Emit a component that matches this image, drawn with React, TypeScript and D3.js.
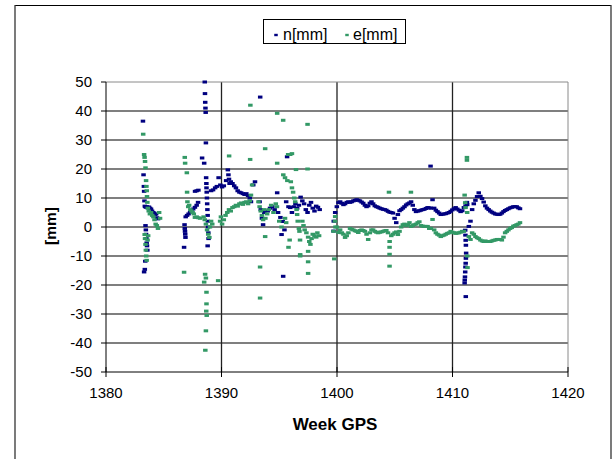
import React from "react";
import * as d3 from "d3";

// ---------- DATA ----------
const xTicks = [1380, 1390, 1400, 1410, 1420];
const yTicks = [-50, -40, -30, -20, -10, 0, 10, 20, 30, 40, 50];
const seriesNames = ["n[mm]", "e[mm]"];

// scattered early observations: n [week, mm]
const nScatterWeeks = [
  1383.20, 1383.25, 1383.28, 1383.30, 1383.33, 1383.36, 1383.40, 1383.47, 1383.55, 1383.64, 1383.72, 1383.81, 1383.90, 1383.99, 1384.08, 1384.16, 1384.25, 1384.34, 1384.42, 1384.51,
  1383.42, 1383.45, 1383.47, 1383.50, 1383.52, 1383.55, 1383.58, 1383.40, 1383.36, 1383.30,
  1386.76, 1386.80, 1386.82, 1386.84, 1386.86, 1386.88, 1386.90, 1387.02, 1387.15, 1387.28, 1387.40, 1387.55, 1387.70, 1387.85, 1387.97,
  1387.71, 1387.85, 1388.00, 1388.32, 1388.50,
  1388.55, 1388.57, 1388.59, 1388.61, 1388.63, 1388.65, 1388.67, 1388.69, 1388.70, 1388.72, 1388.74, 1388.76, 1388.78, 1388.80, 1388.82, 1388.84, 1388.86, 1388.88, 1388.80,
  1389.10, 1389.27,
  1389.45, 1389.60, 1389.75, 1389.90, 1390.05, 1390.20, 1390.40, 1390.55, 1390.60, 1390.65, 1390.70, 1390.80, 1390.95, 1391.10, 1391.25, 1391.40, 1391.55, 1391.70, 1391.85, 1392.00, 1392.15, 1392.30, 1392.45, 1392.55, 1392.75, 1392.90,
  1393.35, 1393.30, 1393.40, 1393.50, 1393.60, 1393.70, 1394.00, 1394.20, 1394.40, 1394.60, 1394.82, 1394.90,
  1395.10, 1395.20, 1395.30, 1395.34, 1395.45, 1395.68, 1395.60, 1395.80, 1395.95, 1396.10, 1396.25, 1396.40, 1396.55, 1396.70, 1396.85,
  1397.00, 1397.15, 1397.30, 1397.45, 1397.60, 1397.75, 1397.90, 1398.05, 1398.20, 1398.35, 1398.50,
  1411.10, 1411.12, 1411.14, 1411.16, 1411.18, 1411.16, 1411.14, 1411.12, 1411.10, 1411.08, 1411.06, 1411.05, 1411.15, 1411.25,
  1408.10, 1399.72,
];
const nScatterValues = [
  36.5, 18, 14, 12.3, 9, 7.2, 7, 6.8, 7, 6.6, 6.9, 6.5, 6.2, 5.5, 5, 4.8, 4.3, 4.5, 3.2, 2.8,
  0.5, -1, -2.5, -4, -5.5, -6.5, -8, -11.8, -14.6, -15.5,
  -7, 0.8, -0.5, -1.5, -2.5, -3.6, 3.5, 4, 4.5, 5, 5.7, 6.2, 6.8, 7.5, 8.5,
  12.3, 12.5, 12.7, 23.8, 22,
  50, 46, 43, 41, 39.5, 29, 17, 15, 13.5, 12, 10, 8, 6, 4, 2, 0, -2, -4, -6.5,
  12.5, 12.8,
  13.5, 14, 17, 14.5, 13.8, 14.2, 16, 19.7, 18, 16.5, 15, 15.6, 15, 14.2, 13.5, 12.5, 12, 11.8, 11.5, 11.2, 11.5, 10.8, 10, 8.7, 14.5, 15.6,
  44.8, 8.7, 6, 3, 0.8, 5, 5.5, 6.5, 7, 6, 11.8, 5,
  3.3, -2.6, 1.9, -17, -1, 24.2, 8.7, 7, 6.7, 5, 7, 8, 6.5, 7.5, 10.3,
  9, 8, 6, 5, 7.5, 8.5, 6.5, 5.5, 7.2, 6.8, 6,
  -1.1, -2.8, -4.6, -6.3, -9, -10.8, -12.5, -13.8, -15.5, -17.2, -18.3, -19.3, -24, 8.5,
  21, 2,
];

// scattered early observations: e [week, mm]
const eScatterWeeks = [
  1383.22, 1383.30, 1383.34, 1383.38, 1383.42, 1383.47, 1383.50, 1383.53, 1383.55, 1383.58, 1383.62, 1383.70, 1383.80, 1383.90, 1384.00, 1384.10, 1384.20, 1384.30, 1384.40, 1384.50, 1384.60, 1384.68,
  1383.35, 1383.38, 1383.42, 1383.45, 1383.48, 1383.52, 1383.60, 1383.65,
  1386.82, 1386.85, 1387.00, 1387.02, 1387.05, 1387.12, 1387.20, 1387.30, 1387.40, 1387.50, 1387.60, 1387.70, 1387.85, 1388.00, 1388.15,
  1386.76, 1388.58, 1388.65, 1388.50, 1388.70, 1388.70, 1388.68, 1388.72, 1388.65, 1388.60,
  1388.55, 1388.65, 1388.75, 1388.85, 1388.95, 1389.00, 1389.10, 1389.20, 1388.45,
  1389.88, 1389.95, 1390.05, 1390.20, 1390.35, 1390.50, 1390.65, 1390.80, 1390.95, 1391.10, 1391.25, 1391.40, 1391.55, 1391.70, 1391.85, 1392.00, 1392.15, 1392.30, 1392.45, 1392.55, 1392.65,
  1392.50, 1392.48, 1390.66, 1389.71,
  1393.20, 1393.30, 1393.40, 1393.50, 1393.60, 1393.70, 1393.80, 1393.95, 1394.10, 1394.30, 1394.50, 1394.70, 1394.80,
  1393.78, 1393.34, 1393.34, 1393.78, 1394.82, 1395.34, 1394.82, 1395.77, 1395.95, 1396.10, 1396.45,
  1395.35, 1395.50, 1395.70, 1396.00, 1396.10, 1396.20, 1396.30, 1396.38, 1396.50, 1396.55, 1396.60, 1396.70, 1396.75, 1396.80, 1396.81,
  1395.80, 1395.90, 1397.00, 1397.10, 1397.20, 1397.35, 1397.50, 1397.60, 1397.70, 1397.80, 1397.90, 1398.05, 1398.20, 1398.30, 1398.45,
  1397.50, 1397.50, 1397.50, 1397.45, 1397.45, 1396.81, 1399.76, 1395.50, 1395.60, 1395.20, 1395.00,
  1399.82, 1399.86, 1404.55, 1404.55, 1404.55, 1404.50, 1406.40, 1411.05, 1411.10, 1411.25, 1411.25, 1411.28, 1411.30,
];
const eScatterValues = [
  32, 25, 24, 22.6, 20.4, 16, 14, 12.5, 10.5, 8.5, 6.5, 5.5, 4.5, 5, 4, 3.5, 2.5, 1, 0.5, -0.5, 5, 3,
  -2.6, -4, -6, -8, -10, -11.5, -4.5, -3,
  24, 22, 18.7, 12, 8.7, 7, 7.5, 6, 5.5, 5, 4.5, 3.3, 3.5, 3.2, 3,
  -15.6, -16.3, -17.6, -19, -22.5, -26.5, -29, -30.5, -35.8, -42.5,
  2.5, 1, -1, -2.5, -3.6, 0, 2, 1, 3.5,
  2, 3.5, 1, 2.5, 4, 5, 6, 5.5, 6.7, 7, 7.5, 7.2, 8, 8.3, 7.8, 8.5, 8.7, 8, 9, 11, 14.5,
  42, 23.3, 24.5, -18.5,
  8.7, 7, 5.5, 4, 2.5, 6, 3, 4.5, 6, 7.5, 5, 8, 7,
  -3.3, -13.8, -24.5, 27, 39.2, 36.8, 22, 25, 25, 25.3, 19.8,
  18, 17, 16, 15.6, 13.5, 12, 10, 8.7, 6, 4.3, 2, -0.5, -1.5, -4.5, -10,
  -7, -4.5, 2, 0.5, -1, -2, -3.5, -5, -6, -4, -2.5, -3, -3.5, -2, -3,
  -8.4, -12, -16, 35.4, 20, -9.5, -11, 3, 1.5, 0, 2,
  2, 0, -7, -9.4, -13.5, 12, 12, 11, 8.4, 24, 23, -10, -14,
];

// daily continuous record starting at week 1399.7 (one value per day)
const dailyStartWeek = 1399.7;
const nDaily = [
  -1.4, 5, 7, 8.4, 8.7, 8.2, 7.7, 8, 8.5, 8.7, 8.5, 8.7, 9, 9.2, 9.4, 9.2, 9, 8.6, 8.2, 7.5,
  7, 7.3, 8.2, 8.7, 8, 7.3, 7, 6.8, 6.5, 6.3, 6.1, 6, 5.8, 5.4, 5.1, 5, 4.8, 3, 1.5, 4.3,
  5.6, 6, 6.5, 7, 7.6, 8, 8.3, 8.7, 7.5, 6, 5.3, 5.5, 5.6, 5.8, 6, 6.1, 6.4, 6.7, 6.6, 6.5,
  9.4, 6.5, 5.8, 5.3, 4.8, 4.3, 4.4, 4.5, 4.6, 4.8, 5, 5.4, 5.9, 6.3, 6.7, 6.2, 5.8, 5.3, 5.6, 6.7,
  7.3, 7.7, 0.2, 2, 6, 8, 9.2, 10.5, 11.8, 10.6, 9.8, 8.6, 7.3, 6.5, 6, 5.5, 5.1, 4.8, 4.5, 4.4,
  4.3, 4.4, 4.8, 5.3, 5.7, 6, 6.3, 6.6, 6.8, 7, 7, 7, 6.6, 6.3,
];
const eDaily = [
  -1.5, 3.6, 0, -1.9, -1, -2, -2.5, -3.6, -3, -2, -0.5, -0.8, -1, -1.3, -1.5, -1.9, -1.2, -1, -1.2, -1.5,
  -2.5, -4.3, -2, -1, -1, -1.5, -1.8, -2, -1.8, -1.7, -1.5, -1.3, -1.2, -2, -5, -3, -2.5, -2, -1.7, -2.6,
  -1.5, 0, 0.8, 1, 0.5, 0.8, 1.5, 0.2, 0.5, 0.8, 1, 1.5, 1.8, 0.5, 0.3, 0.2, 0.2, 0.2, -0.5, -0.5,
  2.6, -1, -2, -2.5, -2.8, -3.3, -3, -2.8, -2.5, -2.2, -2, -1.5, -1.8, -2, -2.2, -2.1, -2, -1.8, -1.5, -1.5,
  6.7, 5, -3.3, -4.3, -2, -2.5, -3.3, -3.7, -4, -4.5, -4.8, -5, -4.8, -5, -5, -5, -4.8, -4.6, -4.5, -4.3,
  -4.3, -4.3, -4.5, -3.5, -2, -1.5, -1, -0.5, -0.2, 0.3, 0.5, 0.8, 1, 1.5,
];

const nColor = "#000080";
const eColor = "#339966";

function buildPoints(weeks: number[], vals: number[], daily: number[]) {
  const pts: [number, number][] = weeks.map((w, i) => [w, vals[i]]);
  daily.forEach((v, i) => pts.push([dailyStartWeek + i / 7, v]));
  return pts;
}

export default function App() {
  const W = 613, H = 459;
  const x = d3.scaleLinear().domain([1380, 1420]).range([106, 568]);
  const y = d3.scaleLinear().domain([-50, 50]).range([372, 82]);
  const font = "'Liberation Sans', Arial, sans-serif";
  const nPts = buildPoints(nScatterWeeks, nScatterValues, nDaily);
  const ePts = buildPoints(eScatterWeeks, eScatterValues, eDaily);
  const mw = 4.5, mh = 3;
  const [x0, x1] = x.range();
  const [yb, yt] = y.range();

  return (
    <svg width={W} height={H} style={{ position: "absolute", left: 0, top: 0, background: "#fff" }} fontFamily={font}>
      <rect x={0} y={0} width={W} height={H} fill="#fff" />
      {/* outer chart border */}
      <line x1={15} y1={5.5} x2={611} y2={5.5} stroke="#000" />
      <line x1={15} y1={5} x2={15} y2={H} stroke="#333" strokeWidth={1.3} />
      <line x1={611} y1={5} x2={611} y2={H} stroke="#333" strokeWidth={1.3} />

      {/* legend */}
      <rect x={263.5} y={19.5} width={142} height={24} fill="#fff" stroke="#000" />
      <rect x={276 - 1.75} y={35 - 1.2} width={3.5} height={2.4} fill={nColor} />
      <text x={283} y={39.5} fontSize={16}>{seriesNames[0]}</text>
      <rect x={347 - 1.75} y={35 - 1.2} width={3.5} height={2.4} fill={eColor} />
      <text x={353} y={39.5} fontSize={16}>{seriesNames[1]}</text>

      {/* gridlines */}
      {yTicks.filter((t) => t !== 50 && t !== -50).map((t) => (
        <line key={"gy" + t} x1={x0} x2={x1} y1={y(t)} y2={y(t)} stroke="#000" strokeWidth={1.2} />
      ))}
      {xTicks.filter((t) => t !== 1380 && t !== 1420).map((t) => (
        <line key={"gx" + t} x1={x(t)} x2={x(t)} y1={yt} y2={yb} stroke="#222" strokeWidth={1.3} />
      ))}
      {/* plot border (top/right grey) */}
      <line x1={x0} x2={x1} y1={yt} y2={yt} stroke="#8a8a8a" />
      <line x1={x1} x2={x1} y1={yt} y2={yb} stroke="#8a8a8a" />
      {/* axes */}
      <line x1={x0} x2={x0} y1={yt} y2={yb} stroke="#000" />
      <line x1={x0} x2={x1} y1={yb} y2={yb} stroke="#000" />
      {yTicks.map((t) => (
        <g key={"ty" + t}>
          <line x1={x0 - 5} x2={x0} y1={y(t)} y2={y(t)} stroke="#000" />
          <text x={92} y={y(t) + 5} fontSize={15} textAnchor="end" fill="#000">{t}</text>
        </g>
      ))}
      {xTicks.map((t) => (
        <g key={"tx" + t}>
          <line x1={x(t)} x2={x(t)} y1={yb - 5} y2={yb + 5} stroke="#000" />
          <text x={x(t)} y={398} fontSize={15} textAnchor="middle" fill="#000">{t}</text>
        </g>
      ))}

      {/* axis titles */}
      <text x={335} y={430} fontSize={17} fontWeight="bold" textAnchor="middle">Week GPS</text>
      <text transform="translate(56,226) rotate(-90)" fontSize={15.5} fontWeight="bold" textAnchor="middle">[mm]</text>

      {/* series */}
      <g>
        {nPts.map((p, i) => (
          <rect key={"n" + i} x={x(p[0]) - mw / 2} y={y(p[1]) - mh / 2} width={mw} height={mh} fill={nColor} />
        ))}
      </g>
      <g>
        {ePts.map((p, i) => (
          <rect key={"e" + i} x={x(p[0]) - mw / 2} y={y(p[1]) - mh / 2} width={mw} height={mh} fill={eColor} />
        ))}
      </g>
    </svg>
  );
}
